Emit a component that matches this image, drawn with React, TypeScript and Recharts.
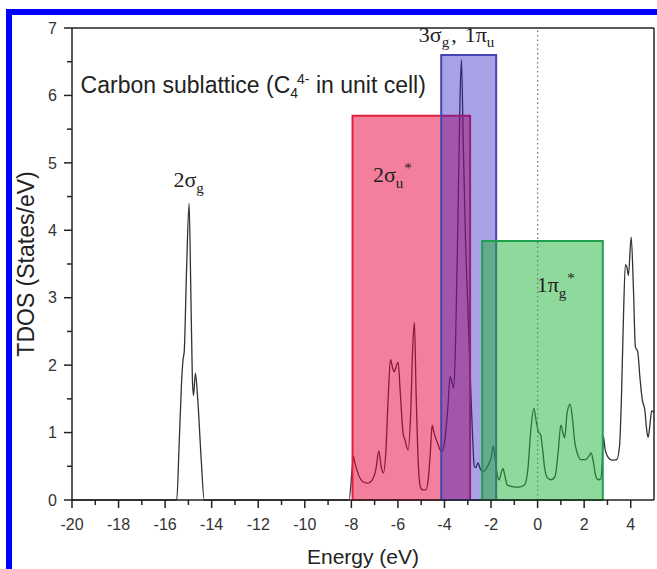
import React from 'react';
import {
  ComposedChart,
  Line,
  XAxis,
  YAxis,
  ReferenceArea,
  ReferenceLine,
  ReferenceDot,
} from 'recharts';

// ---- data ----
const energy = [
  -20, -15.5, -15.4, -15.3, -15.23, -15.18, -15.08, -14.97, -14.9, -14.83, -14.78, -14.7, -14.6, -14.45, -14.32,
  -8.1, -7.97, -7.92, -7.85, -7.7, -7.5, -7.3, -7.1, -6.95, -6.82, -6.72, -6.63, -6.52, -6.42, -6.32, -6.22,
  -6.16, -6.06, -5.99, -5.9, -5.78, -5.7, -5.56, -5.45, -5.36, -5.29, -5.22, -5.12, -5.04, -4.95, -4.8, -4.7,
  -4.6, -4.53, -4.45, -4.38, -4.3, -4.2, -4.1, -3.98, -3.85, -3.76, -3.68, -3.6, -3.52, -3.42, -3.33, -3.27,
  -3.2, -3.1, -3.0, -2.9, -2.8, -2.72, -2.65, -2.56, -2.45, -2.32, -2.15, -2.0, -1.9, -1.82, -1.72, -1.65,
  -1.55, -1.49, -1.42, -1.3, -1.1, -0.8, -0.55, -0.42, -0.3, -0.16, -0.05, 0.05, 0.12, 0.2, 0.3, 0.42, 0.6,
  0.75, 0.88, 1.0, 1.1, 1.16, 1.27, 1.4, 1.5, 1.6, 1.7, 1.85, 2.05, 2.2, 2.3, 2.4, 2.5, 2.6, 2.72, 2.78, 2.82,
  2.9, 3.0, 3.2, 3.4, 3.52, 3.6, 3.68, 3.77, 3.84, 3.9, 4.02, 4.12, 4.2, 4.3, 4.4, 4.5, 4.6, 4.7, 4.75, 4.82,
  4.9, 5.0,
];
const tdos = [
  0, 0, 0.8, 1.7, 2.08, 2.2, 3.4, 4.4, 3.2, 1.8, 1.55, 1.88, 1.5, 0.6, 0,
  0, 0.45, 0.65, 0.55, 0.38, 0.27, 0.25, 0.3, 0.45, 0.73, 0.5, 0.4, 0.7, 1.5, 2.08, 1.95,
  1.9, 2.0, 2.04, 1.6, 1.0, 0.89, 0.74, 1.3, 2.3, 2.63, 1.6, 0.5, 0.2, 0.15, 0.15, 0.3,
  0.75, 1.11, 1.0, 0.92, 0.85, 0.75, 0.72, 0.9, 1.4, 1.83, 1.75, 1.66, 2.4, 4.2, 6.0, 6.53,
  5.4, 3.9, 2.9, 1.9, 1.0, 0.5, 0.48, 0.55, 0.45, 0.42, 0.5, 0.62, 0.8, 0.6, 0.35, 0.3,
  0.42, 0.47, 0.38, 0.22, 0.2, 0.19, 0.23, 0.45, 1.0, 1.36, 1.15, 1.0, 0.98, 0.8, 0.48, 0.33, 0.3,
  0.35, 0.7, 1.11, 0.98, 0.92, 1.3, 1.42, 1.2, 0.85, 0.7, 0.6, 0.6, 0.65, 0.7, 0.55, 0.35, 0.3, 0.32, 0.6, 0.95,
  0.75, 0.65, 0.59, 0.6, 0.8, 1.5, 2.6, 3.49, 3.45, 3.33, 3.9, 3.1, 2.27, 2.2, 1.8, 1.48, 1.35, 1.0, 0.93, 1.1,
  1.32, 1.3,
];

const xMajorTicks = [-20, -18, -16, -14, -12, -10, -8, -6, -4, -2, 0, 2, 4];
const xMinorTicks = [-19, -17, -15, -13, -11, -9, -7, -5, -3, -1, 1, 3];
const yMajorTicks = [0, 1, 2, 3, 4, 5, 6, 7];
const yMinorTicks = [0.5, 1.5, 2.5, 3.5, 4.5, 5.5, 6.5];

// orbital bands (energy range and height)
const bandStart = [-7.95, -4.14, -2.38];
const bandEnd = [-2.9, -1.78, 2.8];
const bandTop = [5.7, 6.6, 3.84];

const data = energy.map((e, i) => ({ e, v: tdos[i] }));
const xTicks = [...xMajorTicks, ...xMinorTicks].sort((a, b) => a - b);
const yTicks = [...yMajorTicks, ...yMinorTicks].sort((a, b) => a - b);

// ---- styles ----
const SANS = '"Liberation Sans", Arial, sans-serif';
const SERIF = '"Liberation Serif", "Times New Roman", serif';
const INK = '#222';
const W = 657;
const H = 569;
const MARGIN = { top: 28, right: 3, bottom: 0, left: 0 };
const bandStyles = [
  { fill: '#e8003a', fillOpacity: 0.5, stroke: '#e0203c' },
  { fill: '#3020c0', fillOpacity: 0.42, stroke: '#4444b4' },
  { fill: '#22b33a', fillOpacity: 0.5, stroke: '#1fa04c' },
];

const XTick = (props: any) => {
  const { x, y, payload } = props;
  const v = payload.value;
  const major = xMajorTicks.includes(v);
  return (
    <g>
      <line x1={x} x2={x} y1={y} y2={y + (major ? 8 : 5)} stroke={INK} strokeWidth={1.5} />
      {major && (
        <text x={x} y={y + 30} textAnchor="middle" fontSize={16} fontFamily={SANS} fill="#333">
          {String(v)}
        </text>
      )}
    </g>
  );
};

const YTick = (props: any) => {
  const { x, y, payload } = props;
  const v = payload.value;
  const major = yMajorTicks.includes(v);
  return (
    <g>
      <line x1={x - (major ? 8 : 5)} x2={x} y1={y} y2={y} stroke={INK} strokeWidth={1.5} />
      {major && (
        <text x={x - 15} y={y} dy="0.36em" textAnchor="end" fontSize={16} fontFamily={SANS} fill="#333">
          {String(v)}
        </text>
      )}
    </g>
  );
};

const labelDefs = [
  { x: -15.64, y: 4.64, font: SERIF, size: 22, kind: 'sg' },
  { x: -7.07, y: 4.72, font: SERIF, size: 22, kind: 'su' },
  { x: -5.1, y: 6.79, font: SERIF, size: 22, kind: 'pi' },
  { x: -0.04, y: 3.08, font: SERIF, size: 22, kind: 'pg' },
  { x: -19.63, y: 6.04, font: SANS, size: 23, kind: 'c' },
];

const renderLabel = (kind: string, font: string, size: number) => (p: any) => {
  const { cx, cy } = p;
  const s = Math.round(size * 0.66);
  const common = { fontFamily: font, fill: INK } as any;
  if (kind === 'sg') {
    return (
      <text x={cx} y={cy} fontSize={size} {...common}>
        <tspan>2σ</tspan>
        <tspan dy={6} fontSize={s}>g</tspan>
      </text>
    );
  }
  if (kind === 'su') {
    return (
      <text x={cx} y={cy} fontSize={size} {...common}>
        <tspan>2σ</tspan>
        <tspan dy={6} fontSize={s}>u</tspan>
        <tspan dy={-15} dx={1} fontSize={s}>*</tspan>
      </text>
    );
  }
  if (kind === 'pg') {
    return (
      <text x={cx} y={cy} fontSize={size} {...common}>
        <tspan>1π</tspan>
        <tspan dy={6} fontSize={s}>g</tspan>
        <tspan dy={-15} dx={1} fontSize={s}>*</tspan>
      </text>
    );
  }
  if (kind === 'pi') {
    return (
      <text x={cx} y={cy} fontSize={size} {...common}>
        <tspan>3σ</tspan>
        <tspan dy={5} fontSize={s}>g</tspan>
        <tspan dy={-5} dx={2}>,</tspan>
        <tspan dx={8}>1π</tspan>
        <tspan dy={5} fontSize={s}>u</tspan>
      </text>
    );
  }
  return (
    <text x={cx} y={cy} fontSize={size} {...common}>
      <tspan>Carbon sublattice (C</tspan>
      <tspan dy={5} fontSize={14}>4</tspan>
      <tspan dx={-1} dy={-14} fontSize={14}>4-</tspan>
      <tspan dy={9}> in unit cell)</tspan>
    </text>
  );
};

// bottom layer: the TDOS curve (so the translucent bands tint it)
function CurveLayer() {
  return (
    <ComposedChart width={W} height={H} data={data} margin={MARGIN}>
      <XAxis dataKey="e" type="number" domain={[-20, 5]} ticks={xTicks} height={69} tick={false} tickLine={false} axisLine={false} />
      <YAxis type="number" domain={[0, 7]} ticks={yTicks} width={72} tick={false} tickLine={false} axisLine={false} />
      <Line type="monotone" dataKey="v" stroke="#333" strokeWidth={1.3} dot={false} activeDot={false} isAnimationActive={false} />
    </ComposedChart>
  );
}

// top layer: bands, axes, frame and labels
function FrameLayer() {
  return (
    <ComposedChart width={W} height={H} data={data} margin={MARGIN}>
      <XAxis
        dataKey="e"
        type="number"
        domain={[-20, 5]}
        ticks={xTicks}
        interval={0}
        tickSize={0}
        tickMargin={0}
        tickLine={false}
        tick={<XTick />}
        height={69}
        axisLine={{ stroke: INK, strokeWidth: 1.5 }}
        label={{
          content: (p: any) => {
            const vb = p.viewBox;
            return (
              <text x={vb.x + vb.width / 2} y={vb.y + 64} textAnchor="middle" fontSize={21} fontFamily={SANS} fill={INK}>
                Energy (eV)
              </text>
            );
          },
        }}
      />
      <YAxis
        type="number"
        domain={[0, 7]}
        ticks={yTicks}
        interval={0}
        tickSize={0}
        tickMargin={0}
        tickLine={false}
        tick={<YTick />}
        width={72}
        axisLine={{ stroke: INK, strokeWidth: 1.5 }}
        label={{
          content: (p: any) => {
            const vb = p.viewBox;
            const cx = vb.x + 26;
            const cy = vb.y + vb.height / 2;
            return (
              <text
                x={cx}
                y={cy}
                transform={`rotate(-90 ${cx} ${cy})`}
                textAnchor="middle"
                dy="0.36em"
                fontSize={23}
                fontFamily={SANS}
                fill={INK}
              >
                TDOS (States/eV)
              </text>
            );
          },
        }}
      />
      <Line type="monotone" dataKey="v" stroke="none" strokeWidth={0} dot={false} activeDot={false} isAnimationActive={false} />
      {bandStart.map((s, i) => (
        <ReferenceArea
          key={i}
          x1={s}
          x2={bandEnd[i]}
          y1={0}
          y2={bandTop[i]}
          fill={bandStyles[i].fill}
          fillOpacity={bandStyles[i].fillOpacity}
          stroke={bandStyles[i].stroke}
          strokeWidth={2}
        />
      ))}
      <ReferenceLine x={0} stroke="#777" strokeWidth={1.3} strokeDasharray="1.5 3" />
      <ReferenceLine y={7} stroke={INK} strokeWidth={1.5} />
      <ReferenceLine x={5} stroke={INK} strokeWidth={1.5} />
      {labelDefs.map((l, i) => (
        <ReferenceDot
          key={'l' + i}
          x={l.x}
          y={l.y}
          r={1}
          fill="none"
          stroke="none"
          shape={renderLabel(l.kind, l.font, l.size)}
        />
      ))}
    </ComposedChart>
  );
}

export default function App() {
  return (
    <div style={{ position: 'absolute', left: 0, top: 0, width: W, height: H, background: '#fff' }}>
      <div
        style={{
          position: 'absolute',
          left: 6,
          top: 9,
          width: 700,
          height: 600,
          borderTop: '6px solid #0000ff',
          borderLeft: '6px solid #0000ff',
          boxSizing: 'border-box',
        }}
      />
      <div style={{ position: 'absolute', left: 0, top: 0 }}>
        <CurveLayer />
      </div>
      <div style={{ position: 'absolute', left: 0, top: 0 }}>
        <FrameLayer />
      </div>
    </div>
  );
}
